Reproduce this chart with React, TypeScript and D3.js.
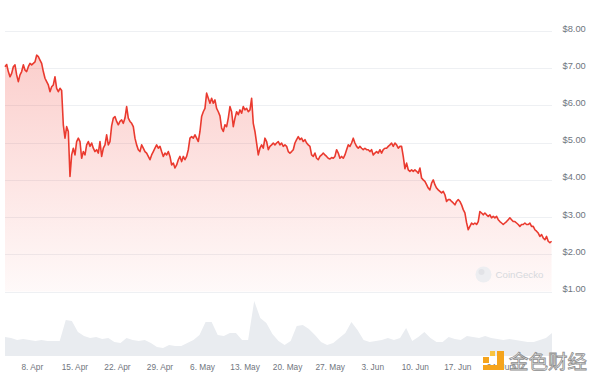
import React from "react";
import * as d3 from "d3";

const W = 600;
const H = 382;

// Price (USD), sampled every ~6.58 hours starting 3 Apr 2024 12:00 UTC
const prices: number[] = [
  7.04, 7.10, 6.91, 6.77, 6.86, 7.04, 7.09, 6.82, 6.64, 6.82,
  6.91, 7.09, 6.95, 6.91, 7.04, 7.13, 7.09, 7.13, 7.17, 7.35,
  7.31, 7.22, 7.13, 6.91, 6.73, 6.64, 6.55, 6.37, 6.50, 6.55,
  6.77, 6.46, 6.37, 6.46, 6.40, 5.48, 5.12, 5.43, 5.30, 4.09,
  4.67, 4.85, 4.67, 5.03, 5.12, 5.03, 4.58, 4.76, 4.67, 4.94,
  5.03, 4.90, 4.99, 4.85, 4.76, 4.81, 4.72, 5.03, 4.63, 4.85,
  4.94, 5.21, 4.94, 5.03, 5.45, 5.66, 5.70, 5.57, 5.48, 5.57,
  5.61, 5.52, 5.66, 5.97, 5.66, 5.57, 5.52, 5.43, 5.12, 4.94,
  4.81, 4.76, 4.94, 4.85, 4.76, 4.72, 4.63, 4.54, 4.67, 4.76,
  4.85, 4.94, 4.85, 4.90, 4.76, 4.63, 4.72, 4.67, 4.76, 4.63,
  4.40, 4.45, 4.32, 4.40, 4.54, 4.63, 4.49, 4.63, 4.54, 4.63,
  4.81, 5.12, 5.16, 5.12, 5.21, 5.12, 5.03, 5.30, 5.70, 5.83,
  5.92, 6.33, 6.19, 6.06, 6.19, 6.06, 6.15, 5.92, 5.83, 5.72,
  5.39, 5.30, 5.48, 5.43, 5.66, 5.97, 5.83, 5.43, 5.66, 5.83,
  5.75, 5.88, 5.79, 5.97, 5.88, 5.92, 5.83, 5.88, 6.19, 5.52,
  5.30, 4.99, 4.67, 4.85, 4.94, 4.85, 5.12, 5.03, 4.81, 4.90,
  4.94, 4.99, 4.94, 4.99, 5.03, 4.94, 4.99, 4.90, 4.94, 4.90,
  4.76, 4.72, 4.76, 4.81, 4.99, 5.08, 5.16, 5.08, 5.12, 5.03,
  5.08, 4.99, 4.94, 4.90, 4.67, 4.63, 4.72, 4.58, 4.54, 4.63,
  4.67, 4.72, 4.67, 4.63, 4.58, 4.56, 4.60, 4.58, 4.63, 4.81,
  4.72, 4.58, 4.63, 4.58, 4.67, 4.81, 4.94, 4.90, 4.99, 5.12,
  4.99, 4.90, 4.85, 4.90, 4.85, 4.81, 4.85, 4.81, 4.81, 4.76,
  4.81, 4.67, 4.72, 4.76, 4.72, 4.81, 4.72, 4.81, 4.85, 4.85,
  4.90, 4.94, 4.99, 4.90, 4.99, 4.94, 4.85, 4.90, 4.90, 4.63,
  4.30, 4.45, 4.27, 4.23, 4.27, 4.23, 4.27, 4.23, 4.18, 4.32,
  4.05, 4.00, 3.96, 3.87, 3.78, 3.73, 3.91, 4.00, 3.87, 3.78,
  3.73, 3.69, 3.65, 3.69, 3.60, 3.42, 3.47, 3.47, 3.42, 3.38,
  3.33, 3.42, 3.47, 3.42, 3.33, 3.20, 3.11, 2.85, 2.66, 2.75,
  2.84, 2.80, 2.84, 2.80, 2.88, 3.15, 3.11, 3.06, 3.11, 3.06,
  3.02, 3.06, 2.98, 3.02, 2.98, 3.02, 2.93, 2.88, 2.84, 2.80,
  2.84, 2.88, 2.93, 2.98, 2.93, 2.88, 2.88, 2.84, 2.80, 2.75,
  2.80, 2.80, 2.84, 2.80, 2.80, 2.84, 2.75, 2.75, 2.66, 2.62,
  2.57, 2.48, 2.53, 2.44, 2.39, 2.48, 2.35, 2.31, 2.35,
];

// Daily trading volume (USD millions), from 3 Apr 2024 12:00 UTC
const volumes: number[] = [
  19, 18, 16, 17, 16, 15, 16, 15, 15, 15,
  36, 35, 24, 20, 18, 19, 17, 18, 14, 13,
  18, 16, 15, 16, 13, 9, 8, 11, 10, 10,
  13, 16, 21, 34, 34, 21, 20, 23, 23, 16,
  16, 55, 38, 33, 22, 15, 11, 15, 30, 31,
  27, 21, 14, 11, 13, 18, 23, 34, 26, 16,
  14, 15, 16, 18, 16, 18, 28, 15, 19, 24,
  18, 14, 14, 19, 17, 16, 20, 19, 18, 20,
  18, 17, 16, 17, 16, 15, 14, 14, 16, 18,
  23,
];

const priceTicks: number[] = [1, 2, 3, 4, 5, 6, 7, 8];
const weekTickDates: string[] = [
  "2024-04-08", "2024-04-15", "2024-04-22", "2024-04-29", "2024-05-06", "2024-05-13",
  "2024-05-20", "2024-05-27", "2024-06-03", "2024-06-10", "2024-06-17", "2024-06-24",
];
const weekTickLabels: string[] = [
  "8. Apr", "15. Apr", "22. Apr", "29. Apr", "6. May", "13. May",
  "20. May", "27. May", "3. Jun", "10. Jun", "17. Jun", "24. Jun",
];

const START = Date.UTC(2024, 3, 3, 12);
const END = Date.UTC(2024, 6, 2, 12);
const HOUR = 3600 * 1000;
const DAY = 24 * HOUR;
const PRICE_STEP = 6.58 * HOUR;

const FONT = "'Liberation Sans', Arial, sans-serif";

export default function App() {
  const x = d3.scaleUtc().domain([new Date(START), new Date(END)]).range([5, 552]);
  const y = d3.scaleLinear().domain([1, 8]).range([291.5, 31]);
  const yv = d3.scaleLinear().domain([0, 70]).range([356, 286]);

  const priceData = prices.map((p, i) => ({ t: new Date(START + i * PRICE_STEP), v: p }));
  const volData = volumes.map((v, i) => ({ t: new Date(START + i * DAY), v }));

  const line = d3
    .line<{ t: Date; v: number }>()
    .x((d) => x(d.t))
    .y((d) => y(d.v));
  const area = d3
    .area<{ t: Date; v: number }>()
    .x((d) => x(d.t))
    .y0(y(1))
    .y1((d) => y(d.v));
  const volArea = d3
    .area<{ t: Date; v: number }>()
    .x((d) => x(d.t))
    .y0(yv(0))
    .y1((d) => yv(d.v));

  const xr = x.range();

  return (
    <svg
      width={W}
      height={H}
      viewBox={`0 0 ${W} ${H}`}
      style={{ position: "absolute", left: 0, top: 0, background: "#fff" }}
    >
      <defs>
        <linearGradient id="pg" gradientUnits="userSpaceOnUse" x1="0" y1={y(8)} x2="0" y2={y(1)}>
          <stop offset="0" stopColor="#f03c32" stopOpacity={0.27} />
          <stop offset="1" stopColor="#f03c32" stopOpacity={0.03} />
        </linearGradient>
      </defs>
      <rect width={W} height={H} fill="#fff" />

      {/* grid */}
      {priceTicks.map((t) => (
        <line
          key={"g" + t}
          x1={xr[0]}
          x2={xr[1]}
          y1={Math.round(y(t)) + 0.5}
          y2={Math.round(y(t)) + 0.5}
          stroke="#eef0f3"
          strokeWidth={1}
        />
      ))}

      {/* volume */}
      <path d={volArea(volData) || ""} fill="#e9ecf0" />

      {/* price */}
      <path d={area(priceData) || ""} fill="url(#pg)" />
      <path
        d={line(priceData) || ""}
        fill="none"
        stroke="#ea3a2f"
        strokeWidth={1.6}
        strokeLinejoin="round"
      />

      {/* y labels */}
      {priceTicks.map((t) => (
        <text
          key={"yl" + t}
          x={562.5}
          y={y(t) + 0.5}
          fontFamily={FONT}
          fontSize={9.3}
          fill="#6f757e"
        >
          {"$" + t.toFixed(2)}
        </text>
      ))}

      {/* x labels */}
      {weekTickDates.map((d, i) => (
        <text
          key={"xl" + d}
          x={x(new Date(d + "T00:00:00Z"))}
          y={370}
          textAnchor="middle"
          fontFamily={FONT}
          fontSize={8.3}
          fill="#6f757e"
        >
          {weekTickLabels[i]}
        </text>
      ))}

      {/* CoinGecko watermark */}
      <g opacity={0.9}>
        <circle cx={483.5} cy={274.5} r={8} fill="#eceef1" />
        <circle cx={481.5} cy={272} r={3} fill="#dfe2e6" />
        <text x={495.5} y={278} fontFamily={FONT} fontSize={9.7} fill="#d3d6db">
          CoinGecko
        </text>
      </g>

      {/* 金色财经 watermark */}
      <g>
        <rect x={483} y={357} width={6} height={6} fill="#f5a41c" />
        <rect x={490} y={351} width={5} height={5} fill="#f9c440" />
        <rect x={497} y={351} width={7} height={19} fill="#f5a41c" />
        <rect x={483} y={365} width={21} height={5} fill="#f5a41c" />
        <text
          x={509}
          y={369}
          fontFamily="'Noto Sans CJK SC', sans-serif"
          fontSize={19.5}
          fill="#f7f7f7"
          stroke="#8c8c8c"
          strokeWidth={0.8}
        >
          金色财经
        </text>
      </g>
    </svg>
  );
}
